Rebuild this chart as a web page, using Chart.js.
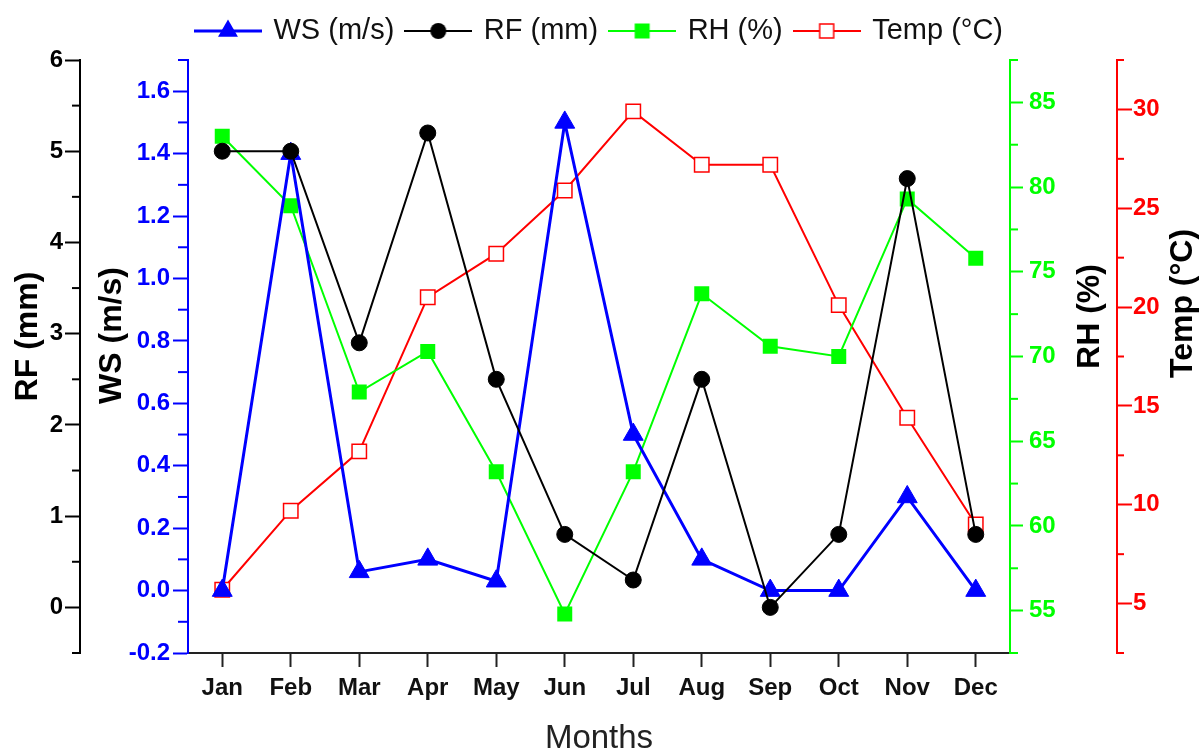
<!DOCTYPE html>
<html>
<head>
<meta charset="utf-8">
<script src="https://cdn.jsdelivr.net/npm/chart.js@4.4.0/dist/chart.umd.min.js"></script>
<style>
html,body{margin:0;padding:0;background:#ffffff;}
#wrap{width:1200px;height:751px;position:relative;}
</style>
</head>
<body>
<div id="wrap"><canvas id="c"></canvas></div>
<script>
// ---- data ----
const months = ['Jan','Feb','Mar','Apr','May','Jun','Jul','Aug','Sep','Oct','Nov','Dec'];
const wsValues   = [0.0, 1.4, 0.06, 0.10, 0.03, 1.5, 0.5, 0.10, 0.0, 0.0, 0.3, 0.0];
const rfValues   = [5.0, 5.0, 2.9, 5.2, 2.5, 0.8, 0.3, 2.5, 0.0, 0.8, 4.7, 0.8];
const rhValues   = [83.0, 78.9, 67.9, 70.3, 63.2, 54.8, 63.2, 73.7, 70.6, 70.0, 79.3, 75.8];
const tempValues = [5.7, 9.7, 12.7, 20.5, 22.7, 25.9, 29.9, 27.2, 27.2, 20.1, 14.4, 9.0];
const seriesLabels = ['WS (m/s)', 'RF (mm)', 'RH (%)', 'Temp (°C)'];
// tick labels
const rfTicks   = [0, 1, 2, 3, 4, 5, 6];
const wsTicks   = [-0.2, 0.0, 0.2, 0.4, 0.6, 0.8, 1.0, 1.2, 1.4, 1.6];
const rhTicks   = [55, 60, 65, 70, 75, 80, 85];
const tempTicks = [5, 10, 15, 20, 25, 30];
const axisTitleRF = 'RF (mm)';
const axisTitleWS = 'WS (m/s)';
const axisTitleRH = 'RH (%)';
const axisTitleTemp = 'Temp (°C)';
const xTitle = 'Months';

const FONT = "'Liberation Sans', Arial, Helvetica, sans-serif";
Chart.defaults.font.family = FONT;

const BLUE = '#0000ff', BLACK = '#000000', GREEN = '#00ff00', RED = '#ff0000';

// legend icons (line + marker)
function makeIcon(color, lw, kind) {
  const c = document.createElement('canvas');
  c.width = 68; c.height = 26;
  const g = c.getContext('2d');
  const x = 34, y = 13;
  g.strokeStyle = color; g.lineWidth = lw;
  g.beginPath(); g.moveTo(0, y); g.lineTo(68, y); g.stroke();
  g.fillStyle = color;
  if (kind === 'triangle') {
    const r = 11.5;
    g.beginPath();
    g.moveTo(x, y - r);
    g.lineTo(x + 0.866 * r, y + 0.5 * r);
    g.lineTo(x - 0.866 * r, y + 0.5 * r);
    g.closePath(); g.fill();
  } else if (kind === 'circle') {
    g.beginPath(); g.arc(x, y, 8, 0, Math.PI * 2); g.fill();
  } else if (kind === 'square') {
    g.fillRect(x - 7.5, y - 7.5, 15, 15);
  } else if (kind === 'hollow') {
    g.fillStyle = '#ffffff';
    g.fillRect(x - 7, y - 7, 14, 14);
    g.lineWidth = 1.5;
    g.strokeRect(x - 7, y - 7, 14, 14);
  }
  return c;
}
const legendIcons = [
  makeIcon(BLUE, 3, 'triangle'),
  makeIcon(BLACK, 2, 'circle'),
  makeIcon(GREEN, 2, 'square'),
  makeIcon(RED, 2, 'hollow')
];

const minorLen = { y1: 8, y: 10, y2: 8, y3: 7 };
const minorColor = { y1: BLACK, y: BLUE, y2: GREEN, y3: RED };

const decorPlugin = {
  id: 'decor',
  beforeInit(chart) {
    const lg = chart.legend;
    if (lg) {
      const orig = lg.fit.bind(lg);
      lg.fit = function () { orig(); this.height += 4.5; };
    }
  },
  afterDraw(chart) {
    const ctx = chart.ctx;
    // minor ticks at half steps between the labelled ticks
    ['y1', 'y', 'y2', 'y3'].forEach(id => {
      const s = chart.scales[id];
      const step = s.options.ticks.stepSize;
      const half = step / 2;
      const k0 = Math.ceil(s.min / half - 1e-6), k1 = Math.floor(s.max / half + 1e-6);
      ctx.save();
      ctx.strokeStyle = minorColor[id];
      ctx.lineWidth = 2;
      for (let k = k0; k <= k1; k++) {
        if (Math.abs(k % 2) !== 1) continue;
        const py = s.getPixelForValue(k * half);
        ctx.beginPath();
        if (s.position === 'left') {
          ctx.moveTo(s.right - minorLen[id], py); ctx.lineTo(s.right, py);
        } else {
          ctx.moveTo(s.left, py); ctx.lineTo(s.left + minorLen[id], py);
        }
        ctx.stroke();
      }
      ctx.restore();
    });
    // rotated axis titles (all read bottom-to-top)
    const ca = chart.chartArea;
    const mid = (ca.top + ca.bottom) / 2;
    const titles = [
      { text: axisTitleRF, x: chart.scales.y1.left + 28, y: mid - 20 },
      { text: axisTitleWS, x: chart.scales.y.left + 32, y: mid - 21 },
      { text: axisTitleRH, x: chart.scales.y2.right - 27, y: mid - 40 },
      { text: axisTitleTemp, x: chart.scales.y3.right - 17, y: mid - 53 }
    ];
    ctx.save();
    ctx.fillStyle = '#000';
    ctx.font = 'bold 32px ' + FONT;
    ctx.textAlign = 'center';
    ctx.textBaseline = 'middle';
    titles.forEach(t => {
      ctx.save();
      ctx.translate(t.x, t.y);
      ctx.rotate(-Math.PI / 2);
      ctx.fillText(t.text, 0, 0);
      ctx.restore();
    });
    ctx.restore();
  }
};

function yAxis(opts) {
  return {
    type: 'linear',
    axis: 'y',
    position: opts.position,
    weight: opts.weight,
    min: opts.min, max: opts.max,
    afterFit(scale) { scale.width = opts.width; },
    afterBuildTicks(scale) { scale.ticks = opts.ticksList.map(v => ({ value: v })); },
    ticks: {
      stepSize: opts.step,
      color: opts.color,
      padding: opts.padding,
      font: { size: 24, weight: 'bold' },
      callback: opts.fmt
    },
    grid: {
      display: true, drawOnChartArea: false, drawTicks: true,
      tickLength: opts.tick, tickColor: opts.color, tickWidth: 2
    },
    border: { display: true, color: opts.color, width: 2 },
    title: { display: false }
  };
}

new Chart(document.getElementById('c'), {
  type: 'line',
  data: {
    labels: months,
    datasets: [
      {
        label: seriesLabels[0], data: wsValues, yAxisID: 'y', order: 1,
        borderColor: BLUE, backgroundColor: BLUE, borderWidth: 3,
        pointStyle: 'triangle', pointRadius: 11.5, pointBackgroundColor: BLUE,
        pointBorderColor: BLUE, pointBorderWidth: 1, tension: 0, fill: false
      },
      {
        label: seriesLabels[1], data: rfValues, yAxisID: 'y1', order: 0,
        borderColor: BLACK, backgroundColor: BLACK, borderWidth: 2,
        pointStyle: 'circle', pointRadius: 8, pointBackgroundColor: BLACK,
        pointBorderColor: BLACK, pointBorderWidth: 1, tension: 0, fill: false
      },
      {
        label: seriesLabels[2], data: rhValues, yAxisID: 'y2', order: 2,
        borderColor: GREEN, backgroundColor: GREEN, borderWidth: 2,
        pointStyle: 'rect', pointRadius: 10.6, pointBackgroundColor: GREEN,
        pointBorderColor: GREEN, pointBorderWidth: 0, tension: 0, fill: false
      },
      {
        label: seriesLabels[3], data: tempValues, yAxisID: 'y3', order: 3,
        borderColor: RED, backgroundColor: '#ffffff', borderWidth: 2,
        pointStyle: 'rect', pointRadius: 10.2, pointBackgroundColor: '#ffffff',
        pointBorderColor: RED, pointBorderWidth: 1.5, tension: 0, fill: false
      }
    ]
  },
  options: {
    responsive: true,
    maintainAspectRatio: false,
    animation: false,
    events: [],
    layout: { padding: { top: 3.5, left: 0, right: 0, bottom: 0 } },
    plugins: {
      tooltip: { enabled: false },
      legend: {
        display: true,
        position: 'top',
        labels: {
          usePointStyle: true,
          pointStyleWidth: 62,
          padding: 13,
          color: '#111',
          font: { size: 29 },
          generateLabels(chart) {
            return chart.data.datasets.map((ds, i) => ({
              text: ds.label,
              datasetIndex: i,
              pointStyle: legendIcons[i],
              fillStyle: ds.borderColor,
              strokeStyle: ds.borderColor,
              lineWidth: 0,
              hidden: false,
              fontColor: '#111'
            }));
          }
        }
      }
    },
    scales: {
      x: {
        type: 'category',
        position: 'bottom',
        offset: true,
        afterFit(scale) { scale.height = 98; },
        ticks: { color: '#111', padding: 7, font: { size: 24, weight: 'bold' }, maxRotation: 0, autoSkip: false },
        grid: { display: true, drawOnChartArea: false, drawTicks: true, tickLength: 14, tickColor: '#222', tickWidth: 2 },
        border: { display: true, color: '#222', width: 2 },
        title: { display: true, text: xTitle, color: '#222', font: { size: 33, lineHeight: 1 }, padding: { top: 0, bottom: -4 } }
      },
      y1: yAxis({ position: 'left', weight: 1, min: -0.5, max: 6, step: 1, color: BLACK, width: 80, tick: 15, padding: 2,
                  ticksList: rfTicks, fmt: v => String(Math.round(v)) }),
      y: yAxis({ position: 'left', weight: 0, min: -0.2, max: 1.7, step: 0.2, color: BLUE, width: 108, tick: 15, padding: 3,
                 ticksList: wsTicks, fmt: v => Number(v).toFixed(1) }),
      y2: yAxis({ position: 'right', weight: 0, min: 52.5, max: 87.5, step: 5, color: GREEN, width: 107, tick: 13, padding: 6,
                  ticksList: rhTicks, fmt: v => String(Math.round(v)) }),
      y3: yAxis({ position: 'right', weight: 1, min: 2.5, max: 32.5, step: 5, color: RED, width: 83, tick: 15, padding: 1,
                  ticksList: tempTicks, fmt: v => String(Math.round(v)) })
    }
  },
  plugins: [decorPlugin]
});
</script>
</body>
</html>
